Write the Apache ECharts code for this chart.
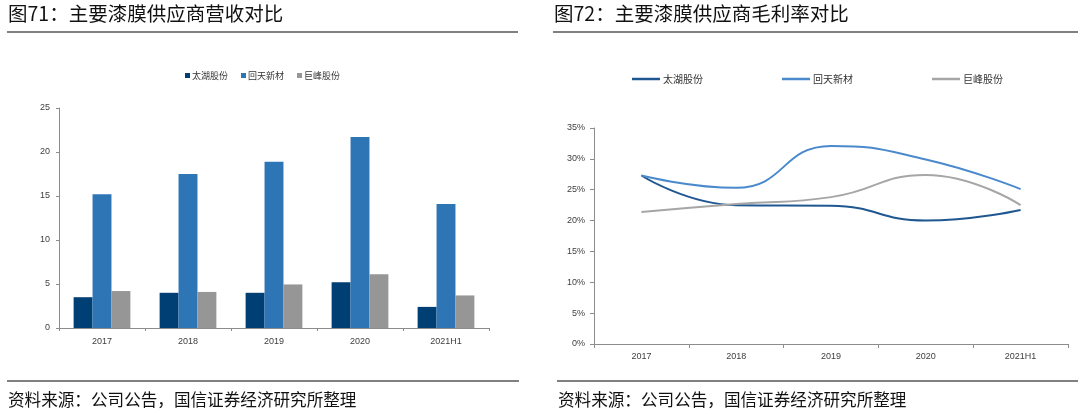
<!DOCTYPE html>
<html>
<head>
<meta charset="utf-8">
<script src="https://cdn.jsdelivr.net/npm/echarts@6/dist/echarts.min.js"></script>
<style>
html,body{margin:0;padding:0;background:#fff;}
#c1,#c2{position:absolute;top:0;width:540px;height:414px;}
#c1{left:0;} #c2{left:540px;}
</style>
</head>
<body>
<div id="c1"></div>
<div id="c2"></div>
<script>
// ---- data ----
var categories = ['2017', '2018', '2019', '2020', '2021H1'];
var seriesNames = ['太湖股份', '回天新材', '巨峰股份'];
// 营收 (亿元)
var revTaihu = [3.5, 4.0, 4.0, 5.2, 2.4];
var revHuitian = [15.2, 17.5, 18.9, 21.7, 14.1];
var revJufeng = [4.2, 4.1, 4.95, 6.1, 3.7];
// 毛利率 (%)
var gmTaihu = [27.3, 22.5, 22.4, 20.0, 21.7];
var gmHuitian = [27.3, 25.3, 32.1, 29.9, 25.1];
var gmJufeng = [21.4, 22.7, 23.8, 27.4, 22.5];
var revTicks = [0, 5, 10, 15, 20, 25];
var gmTicks = [0, 5, 10, 15, 20, 25, 30, 35];

var titles = ['图71：主要漆膜供应商营收对比', '图72：主要漆膜供应商毛利率对比'];
var sourceText = '资料来源：公司公告，国信证券经济研究所整理';

var FONT = '"Liberation Sans", "Noto Sans CJK SC", sans-serif';
var CJK = '"Noto Sans CJK SC", sans-serif';
var axisColor = '#8c8c8c';
var labelColor = '#404040';

function frame(x0, x1, bx0, bx1, title) {
  return [
    {type: 'text', left: x0 + 1, top: 4, style: {text: title, font: '19.5px ' + CJK, fill: '#111'}},
    {type: 'line', shape: {x1: x0, y1: 32, x2: x1, y2: 32}, style: {stroke: '#808080', lineWidth: 2}},
    {type: 'line', shape: {x1: bx0, y1: 381, x2: bx1, y2: 381}, style: {stroke: '#808080', lineWidth: 2}},
    {type: 'text', left: bx0 + 1, top: 391, style: {text: sourceText, font: '16.6px ' + CJK, fill: '#111'}}
  ];
}

var c1 = echarts.init(document.getElementById('c1'));
c1.setOption({
  animation: false,
  graphic: frame(7, 518, 7, 519, titles[0]),
  legend: {
    data: seriesNames, left: 180, top: 66,
    icon: 'rect', itemWidth: 5, itemHeight: 5, itemGap: 13,
    textStyle: {fontSize: 9, fontFamily: CJK, color: '#333', padding: [0, 0, 0, -3]}
  },
  grid: {left: 59, top: 108, width: 430, height: 220},
  xAxis: {
    type: 'category', data: categories,
    axisLine: {lineStyle: {color: axisColor}},
    axisTick: {show: true, length: 3, lineStyle: {color: axisColor}},
    axisLabel: {color: labelColor, fontSize: 9, fontFamily: FONT, margin: 9}
  },
  yAxis: {
    type: 'value', min: revTicks[0], max: revTicks[revTicks.length - 1], interval: 5,
    axisLine: {show: true, lineStyle: {color: axisColor}},
    axisTick: {show: true, length: 3, lineStyle: {color: axisColor}},
    splitLine: {show: false},
    axisLabel: {color: labelColor, fontSize: 9, fontFamily: FONT, margin: 9}
  },
  series: [
    {name: seriesNames[0], type: 'bar', data: revTaihu, barGap: '0%', barCategoryGap: '34%', itemStyle: {color: '#003f73'}},
    {name: seriesNames[1], type: 'bar', data: revHuitian, barGap: '0%', barCategoryGap: '34%', itemStyle: {color: '#2e75b6'}},
    {name: seriesNames[2], type: 'bar', data: revJufeng, barGap: '0%', barCategoryGap: '34%', itemStyle: {color: '#969696'}}
  ]
});

var c2 = echarts.init(document.getElementById('c2'));
c2.setOption({
  animation: false,
  graphic: frame(13, 538, 17, 538, titles[1]),
  legend: {
    data: seriesNames, left: 87, top: 69,
    icon: 'rect', itemWidth: 28, itemHeight: 2.5, itemGap: 79,
    textStyle: {fontSize: 10, fontFamily: CJK, color: '#333', padding: [0, 0, 0, -2]}
  },
  grid: {left: 54, top: 128, width: 474, height: 216},
  xAxis: {
    type: 'category', data: categories, boundaryGap: true,
    axisLine: {lineStyle: {color: axisColor}},
    axisTick: {show: true, length: 4, lineStyle: {color: axisColor}},
    axisLabel: {color: labelColor, fontSize: 9, fontFamily: FONT, margin: 8}
  },
  yAxis: {
    type: 'value', min: gmTicks[0], max: gmTicks[gmTicks.length - 1], interval: 5,
    axisLine: {show: true, lineStyle: {color: axisColor}},
    axisTick: {show: true, length: 4, lineStyle: {color: axisColor}},
    splitLine: {show: false},
    axisLabel: {color: labelColor, fontSize: 9, fontFamily: FONT, margin: 9, formatter: '{value}%'}
  },
  series: [
    {name: seriesNames[0], type: 'line', data: gmTaihu, smooth: 0.5, symbol: 'none', lineStyle: {color: '#1f5791', width: 2}, itemStyle: {color: '#1f5791'}},
    {name: seriesNames[1], type: 'line', data: gmHuitian, smooth: 0.5, symbol: 'none', lineStyle: {color: '#4a89cc', width: 2}, itemStyle: {color: '#4a89cc'}},
    {name: seriesNames[2], type: 'line', data: gmJufeng, smooth: 0.5, symbol: 'none', lineStyle: {color: '#a6a6a6', width: 2}, itemStyle: {color: '#a6a6a6'}}
  ]
});
</script>
</body>
</html>
